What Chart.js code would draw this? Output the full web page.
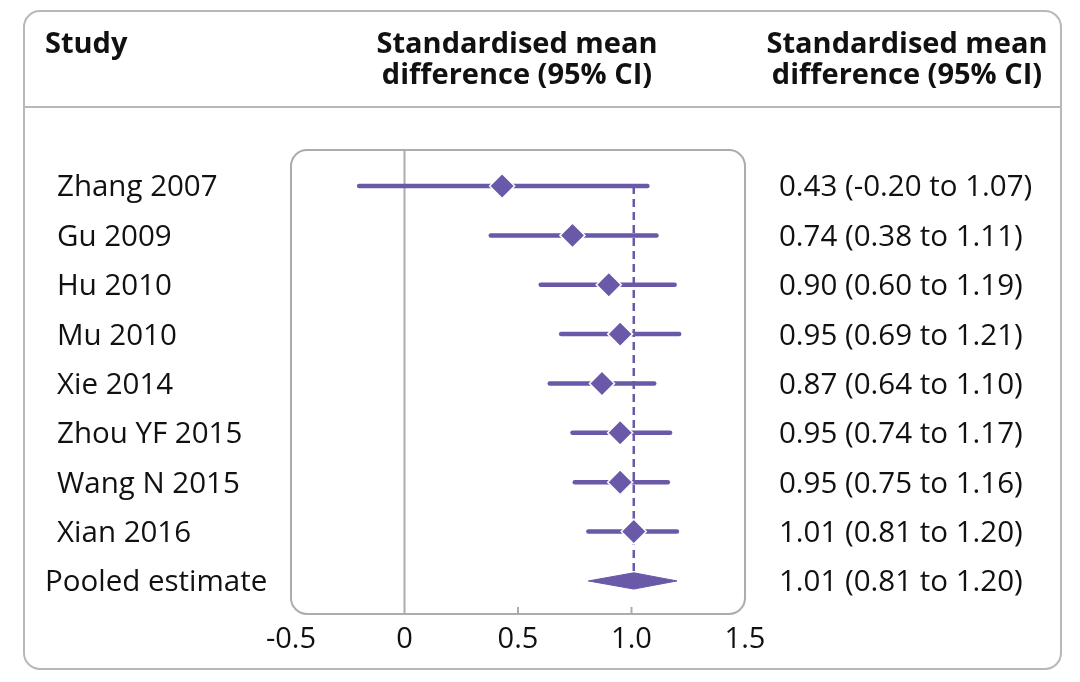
<!DOCTYPE html>
<html>
<head>
<meta charset="utf-8">
<script src="https://cdn.jsdelivr.net/npm/chart.js@4.4.1/dist/chart.umd.min.js"></script>
<style>
  html, body { margin: 0; padding: 0; background: #fff; }
  #wrap { width: 1080px; height: 682px; position: relative; }
</style>
</head>
<body>
<div id="wrap"><canvas id="forest"></canvas></div>
<script>
/* ── Data ─────────────────────────────────────────── */
const STUDIES = ['Zhang 2007', 'Gu 2009', 'Hu 2010', 'Mu 2010', 'Xie 2014',
                 'Zhou YF 2015', 'Wang N 2015', 'Xian 2016'];
const SMD   = [0.43, 0.74, 0.90, 0.95, 0.87, 0.95, 0.95, 1.01];
const LOWER = [-0.20, 0.38, 0.60, 0.69, 0.64, 0.74, 0.75, 0.81];
const UPPER = [1.07, 1.11, 1.19, 1.21, 1.10, 1.17, 1.16, 1.20];
const CI_TEXT = ['0.43 (-0.20 to 1.07)', '0.74 (0.38 to 1.11)', '0.90 (0.60 to 1.19)',
                 '0.95 (0.69 to 1.21)', '0.87 (0.64 to 1.10)', '0.95 (0.74 to 1.17)',
                 '0.95 (0.75 to 1.16)', '1.01 (0.81 to 1.20)'];
const POOLED_LABEL = 'Pooled estimate';
const POOLED_EST = 1.01;
const POOLED_CI  = [0.81, 1.20];
const POOLED_TEXT = '1.01 (0.81 to 1.20)';
const X_TICKS = [-0.5, 0, 0.5, 1.0, 1.5];
const X_TICK_LABELS = ['-0.5', '0', '0.5', '1.0', '1.5'];

/* ── Style ────────────────────────────────────────── */
const PURPLE = '#6a58a8';
const GREY   = '#acacac';
const INK    = '#111111';
const BODY_FONT = '29.5px "Open Sans", "Noto Sans", sans-serif';
const HEAD_FONT = 'bold 29px "Open Sans", "Noto Sans", sans-serif';

const Y_MIN = -0.73, Y_MAX = 8.67;
const POOLED_ROW = STUDIES.length;
const DIAMOND_H = 0.165;   // half height of pooled diamond, in row units

/* ── Datasets ─────────────────────────────────────── */
const ciSets = STUDIES.map((s, i) => ({
  label: s + ' CI',
  data: [{ x: LOWER[i], y: i }, { x: UPPER[i], y: i }],
  showLine: true, borderColor: PURPLE, borderWidth: 4.5, borderCapStyle: 'round',
  pointRadius: 0, order: 3
}));

const datasets = [
  { // line of no effect
    label: 'zero',
    data: [{ x: 0, y: Y_MIN }, { x: 0, y: Y_MAX }],
    showLine: true, borderColor: GREY, borderWidth: 2, pointRadius: 0, order: 5
  },
  { // dashed pooled reference
    label: 'pooled ref',
    data: [{ x: POOLED_EST, y: 0 }, { x: POOLED_EST, y: POOLED_ROW - DIAMOND_H }],
    showLine: true, borderColor: PURPLE, borderWidth: 2.5, borderDash: [8, 5],
    pointRadius: 0, order: 4
  },
  ...ciSets,
  { // point estimates
    label: 'SMD',
    data: SMD.map((v, i) => ({ x: v, y: i })),
    showLine: false, pointStyle: 'rectRot', pointRadius: 12.5,
    backgroundColor: PURPLE, borderColor: '#ffffff', borderWidth: 1.5, order: 1
  },
  { // pooled diamond, upper half
    label: 'pooled top',
    data: [{ x: POOLED_CI[0], y: POOLED_ROW }, { x: POOLED_EST, y: POOLED_ROW - DIAMOND_H },
           { x: POOLED_CI[1], y: POOLED_ROW }],
    showLine: true, borderColor: PURPLE, borderWidth: 1, backgroundColor: PURPLE,
    fill: '+1', pointRadius: 0, tension: 0, order: 2
  },
  { // pooled diamond, lower half
    label: 'pooled bottom',
    data: [{ x: POOLED_CI[0], y: POOLED_ROW }, { x: POOLED_EST, y: POOLED_ROW + DIAMOND_H },
           { x: POOLED_CI[1], y: POOLED_ROW }],
    showLine: true, borderColor: PURPLE, borderWidth: 1, pointRadius: 0, tension: 0, order: 2
  }
];

/* ── Helpers ──────────────────────────────────────── */
function roundRect(ctx, x0, y0, x1, y1, r) {
  ctx.beginPath();
  ctx.moveTo(x0 + r, y0);
  ctx.lineTo(x1 - r, y0);
  ctx.arcTo(x1, y0, x1, y0 + r, r);
  ctx.lineTo(x1, y1 - r);
  ctx.arcTo(x1, y1, x1 - r, y1, r);
  ctx.lineTo(x0 + r, y1);
  ctx.arcTo(x0, y1, x0, y1 - r, r);
  ctx.lineTo(x0, y0 + r);
  ctx.arcTo(x0, y0, x0 + r, y0, r);
  ctx.closePath();
}

const framePlugin = {
  id: 'frame',
  beforeDraw(chart) {
    const { ctx, chartArea: a } = chart;
    ctx.save();
    ctx.fillStyle = '#fff';
    ctx.fillRect(0, 0, chart.width, chart.height);
    ctx.strokeStyle = '#b8b8b8';
    ctx.lineWidth = 2;
    roundRect(ctx, 24, 11, 1061, 669, 16);
    ctx.stroke();
    ctx.beginPath();
    ctx.moveTo(24, 107); ctx.lineTo(1061, 107);
    ctx.stroke();
    // plot box
    ctx.strokeStyle = GREY;
    roundRect(ctx, a.left, a.top, a.right, a.bottom, 16);
    ctx.stroke();
    // inner ticks
    const xs = chart.scales.x;
    [0.5, 1.0].forEach(v => {
      const px = xs.getPixelForValue(v);
      ctx.beginPath();
      ctx.moveTo(px, a.bottom - 7); ctx.lineTo(px, a.bottom);
      ctx.stroke();
    });
    ctx.restore();
  },
  afterDraw(chart) {
    const { ctx } = chart;
    const ys = chart.scales.y;
    ctx.save();
    ctx.fillStyle = INK;
    ctx.textBaseline = 'middle';
    // header
    ctx.font = HEAD_FONT;
    ctx.textAlign = 'left';
    ctx.fillText('Study', 45, 45);
    ctx.textAlign = 'center';
    ctx.fillText('Standardised mean', 517, 45);
    ctx.fillText('difference (95% CI)', 517, 76);
    ctx.fillText('Standardised mean', 907, 45);
    ctx.fillText('difference (95% CI)', 907, 76);
    // rows
    ctx.font = BODY_FONT;
    ctx.textAlign = 'left';
    STUDIES.forEach((s, i) => {
      const y = ys.getPixelForValue(i) + 2;
      ctx.fillText(s, 57, y);
      ctx.fillText(CI_TEXT[i], 779, y);
    });
    const py = ys.getPixelForValue(POOLED_ROW) + 2;
    ctx.fillText(POOLED_LABEL, 45, py);
    ctx.fillText(POOLED_TEXT, 779, py);
    ctx.restore();
  }
};

/* ── Chart ────────────────────────────────────────── */
new Chart(document.getElementById('forest'), {
  type: 'scatter',
  data: { datasets },
  options: {
    responsive: true,
    maintainAspectRatio: false,
    animation: false,
    layout: { padding: { left: 291, right: 335, top: 150, bottom: 26 } },
    plugins: { legend: { display: false }, tooltip: { enabled: false } },
    scales: {
      x: {
        type: 'linear', min: -0.5, max: 1.5,
        afterBuildTicks: s => { s.ticks = X_TICKS.map(v => ({ value: v })); },
        afterFit: s => { s.height = 42; },
        ticks: {
          color: INK, padding: 0, maxRotation: 0, autoSkip: false,
          font: { family: '"Open Sans", "Noto Sans", sans-serif', size: 29 },
          callback: (v, i) => X_TICK_LABELS[i]
        },
        grid: { display: false },
        border: { display: false }
      },
      y: {
        type: 'linear', min: Y_MIN, max: Y_MAX, reverse: true, display: false
      }
    }
  },
  plugins: [framePlugin]
});
</script>
</body>
</html>
